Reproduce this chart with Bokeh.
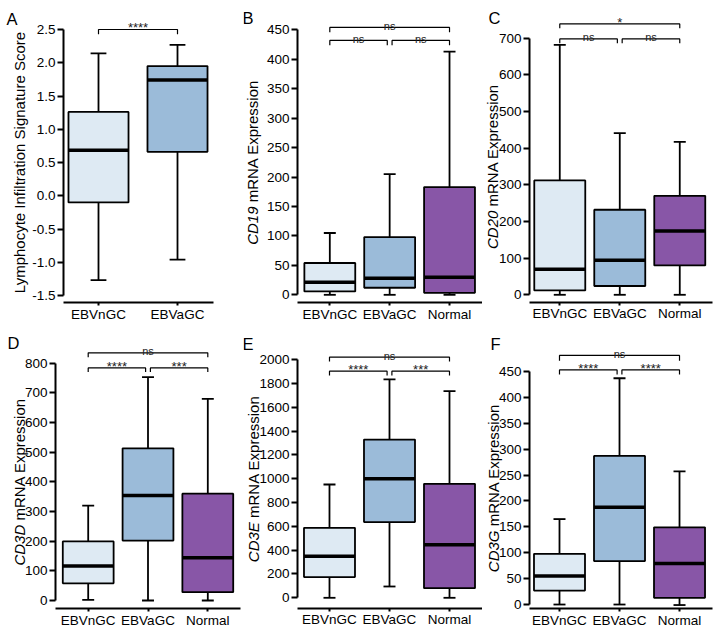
import math
from bokeh.plotting import figure
from bokeh.models import ColumnDataSource, Label, FixedTicker, PrintfTickFormatter, Range1d
from bokeh.layouts import row, column
from bokeh.embed import file_html
from bokeh.resources import INLINE
from bokeh.core.properties import value

FONT = "Liberation Sans"
box_colors = ["#deeaf3", "#9bbbd9", "#8856a7"]

# ---------------- data ----------------
# A: Lymphocyte infiltration signature score
a_groups = ["EBVnGC", "EBVaGC"]
a_lo = [-1.27, -0.96]
a_q1 = [-0.10, 0.66]
a_med = [0.685, 1.74]
a_q3 = [1.26, 1.95]
a_hi = [2.14, 2.27]
a_ticks = [-1.5, -1.0, -0.5, 0.0, 0.5, 1.0, 1.5, 2.0, 2.5]
a_sig = dict(x1=[1], x2=[2], y=[2.5], tip=[2.43], t=["****"])

groups = ["EBVnGC", "EBVaGC", "Normal"]

# B: CD19
b_lo = [0, 0, 0]
b_q1 = [5.7, 12, 3.4]
b_med = [21.5, 28, 30]
b_q3 = [54, 98, 183]
b_hi = [105, 205, 413]
b_ticks = [0, 50, 100, 150, 200, 250, 300, 350, 400, 450]
b_sig = dict(x1=[1, 1, 2.04], x2=[3, 1.96, 3], y=[454, 432, 432], tip=[446, 424, 424], t=["ns", "ns", "ns"])

# C: CD20
c_lo = [0, 0, 0]
c_q1 = [12, 24, 80]
c_med = [70, 94, 174]
c_q3 = [312, 232, 270]
c_hi = [682, 441, 417]
c_ticks = [0, 100, 200, 300, 400, 500, 600, 700]
c_sig = dict(x1=[1, 1, 2.04], x2=[3, 1.96, 3], y=[739, 698, 698], tip=[727, 686, 686], t=["*", "ns", "ns"])

# D: CD3D
d_lo = [2, 0, 0]
d_q1 = [58, 202, 28]
d_med = [116, 354, 144]
d_q3 = [199, 513, 360]
d_hi = [320, 753, 680]
d_ticks = [0, 100, 200, 300, 400, 500, 600, 700, 800]
d_sig = dict(x1=[1, 1, 2.04], x2=[3, 1.96, 3], y=[835, 784, 784], tip=[820, 770, 770], t=["ns", "****", "***"])

# E: CD3E
e_lo = [0, 95, 0]
e_q1 = [174, 636, 81]
e_med = [350, 1000, 445]
e_q3 = [588, 1330, 958]
e_hi = [952, 1835, 1737]
e_ticks = [0, 200, 400, 600, 800, 1000, 1200, 1400, 1600, 1800, 2000]
e_sig = dict(x1=[1, 1, 2.04], x2=[3, 1.96, 3], y=[2022, 1904, 1904], tip=[1986, 1868, 1868], t=["ns", "****", "***"])

# F: CD3G
f_lo = [0, 0, -1]
f_q1 = [27, 84, 13]
f_med = [55, 188, 79]
f_q3 = [98, 287, 149]
f_hi = [165, 437, 257]
f_ticks = [0, 50, 100, 150, 200, 250, 300, 350, 400, 450]
f_sig = dict(x1=[1, 1, 2.04], x2=[3, 1.96, 3], y=[481, 453, 453], tip=[471, 444, 444], t=["ns", "****", "****"])

# approximate Arial/Liberation Sans advance widths (per 1000 em)
CW = {' ': 278, 'C': 722, 'D': 722, 'E': 667, 'G': 778, 'A': 667, 'N': 722, 'R': 722,
      '0': 556, '1': 556, '2': 556, '3': 556, '9': 556, 'm': 833, 'x': 500, 'p': 556,
      'r': 333, 'e': 556, 's': 500, 'i': 222, 'o': 556, 'n': 556}


def tw(s, size):
    return sum(CW.get(ch, 556) for ch in s) * size / 1000.0


TITLE_FS = 15
TICK_FS = "13.5px"


def panel(letter, cats, lo, q1, med, q3, hi, ticks, fmt, sig, gene, rest,
          width, height, xr, yr, ax_x, x_end, ax_y, bw, title_dx, letter_dx, letter_dy):
    p = figure(width=width, height=height, x_range=Range1d(*xr), y_range=Range1d(*yr),
               output_backend="svg", toolbar_location=None, tools="", title=None,
               min_border_left=0, min_border_right=0, min_border_top=0, min_border_bottom=0)
    p.outline_line_color = None
    p.xgrid.visible = False
    p.ygrid.visible = False
    p.background_fill_color = "white"
    p.border_fill_color = "white"

    xs = [i + 1 for i in range(len(cats))]
    cw = 0.2
    src = ColumnDataSource(dict(
        x=xs, lo=lo, q1=q1, med=med, q3=q3, hi=hi, color=box_colors[:len(cats)],
        mx0=[x - bw / 2 for x in xs], mx1=[x + bw / 2 for x in xs],
        cx0=[x - cw / 2 for x in xs], cx1=[x + cw / 2 for x in xs],
    ))
    p.segment(x0="x", y0="q3", x1="x", y1="hi", source=src, line_color="black", line_width=1.8)
    p.segment(x0="x", y0="q1", x1="x", y1="lo", source=src, line_color="black", line_width=1.8)
    p.segment(x0="cx0", y0="hi", x1="cx1", y1="hi", source=src, line_color="black", line_width=1.8)
    p.segment(x0="cx0", y0="lo", x1="cx1", y1="lo", source=src, line_color="black", line_width=1.8)
    p.vbar(x="x", width=bw, bottom="q1", top="q3", source=src, fill_color="color",
           line_color="black", line_width=1.8)
    p.segment(x0="mx0", y0="med", x1="mx1", y1="med", source=src, line_color="black", line_width=3.5)

    # significance brackets
    bxs = [[a, a, b, b] for a, b in zip(sig["x1"], sig["x2"])]
    bys = [[tp, y, y, tp] for y, tp in zip(sig["y"], sig["tip"])]
    p.multi_line(xs=bxs, ys=bys, line_color="black", line_width=1.2)
    ssrc = ColumnDataSource(dict(
        xm=[(a + b) / 2 for a, b in zip(sig["x1"], sig["x2"])], y=sig["y"], t=sig["t"],
        fs=["13px" if "*" in s else "11px" for s in sig["t"]],
    ))
    p.text(x="xm", y="y", text="t", source=ssrc, text_font=value(FONT), text_font_size="fs",
           text_align="center", text_baseline="alphabetic", y_offset=-1.5, text_color="#222222")

    # y axis (Prism-style, drawn at a fixed location inside the canvas)
    ya = p.yaxis[0]
    ya.fixed_location = ax_x
    ya.ticker = FixedTicker(ticks=ticks)
    ya.bounds = (ticks[0], ticks[-1])
    if fmt:
        ya.formatter = PrintfTickFormatter(format=fmt)
    ya.axis_line_width = 2
    ya.axis_line_color = "black"
    ya.major_tick_line_width = 2
    ya.major_tick_line_color = "black"
    ya.major_tick_out = 6
    ya.major_tick_in = 0
    ya.minor_tick_line_color = None
    ya.major_label_text_font = FONT
    ya.major_label_text_font_size = TICK_FS
    ya.major_label_text_color = "black"
    ya.major_label_standoff = 2

    # x axis, offset below the y axis
    xa = p.xaxis[0]
    xa.fixed_location = ax_y
    xa.ticker = FixedTicker(ticks=xs)
    xa.bounds = (ax_x, x_end)
    xa.major_label_overrides = {x: c for x, c in zip(xs, cats)}
    xa.axis_line_width = 2
    xa.axis_line_color = "black"
    xa.major_tick_line_width = 2
    xa.major_tick_line_color = "black"
    xa.major_tick_out = 3
    xa.major_tick_in = 0
    xa.minor_tick_line_color = None
    xa.major_label_text_font = FONT
    xa.major_label_text_font_size = TICK_FS
    xa.major_label_text_color = "black"
    xa.major_label_standoff = 1

    # y-axis title (gene symbol in italics)
    yc = (ticks[0] + ticks[-1]) / 2
    fs = "%gpx" % TITLE_FS
    if gene:
        w_it = tw(gene, TITLE_FS)
        w_sp = tw(" ", TITLE_FS)
        w_reg = tw(rest, TITLE_FS)
        total = w_it + w_sp + w_reg
        p.add_layout(Label(x=ax_x, y=yc, x_offset=title_dx, y_offset=-total / 2, text=gene,
                           angle=math.pi / 2, text_align="left", text_baseline="middle",
                           text_font=FONT, text_font_style="italic", text_font_size=fs,
                           text_color="black"))
        p.add_layout(Label(x=ax_x, y=yc, x_offset=title_dx, y_offset=-total / 2 + w_it + w_sp,
                           text=rest, angle=math.pi / 2, text_align="left", text_baseline="middle",
                           text_font=FONT, text_font_size=fs, text_color="black"))
    else:
        p.add_layout(Label(x=ax_x, y=yc, x_offset=title_dx, y_offset=0, text=rest,
                           angle=math.pi / 2, text_align="center", text_baseline="middle",
                           text_font=FONT, text_font_size=fs, text_color="black"))

    # panel letter
    p.add_layout(Label(x=ax_x, y=yr[1], x_offset=letter_dx, y_offset=letter_dy, text=letter,
                       text_align="left", text_baseline="alphabetic", text_font=FONT,
                       text_font_size="16.5px", text_color="black"))
    return p


REST = "mRNA Expression"

pA = panel("A", a_groups, a_lo, a_q1, a_med, a_q3, a_hi, a_ticks, "%.1f", a_sig,
           "", "Lymphocyte Infiltration Signature Score",
           243, 330, (-0.2405, 2.8354), (-2.026, 2.936), 0.557, 2.456, -1.605, 0.76, -44, -57, -18)
pB = panel("B", groups, b_lo, b_q1, b_med, b_q3, b_hi, b_ticks, None, b_sig,
           "CD19", REST,
           239, 330, (-0.442, 3.551), (-60.6, 499.8), 0.46, 3.551, -13.1, 0.85, -45, -55, -17)
pC = panel("C", groups, c_lo, c_q1, c_med, c_q3, c_hi, c_ticks, None, c_sig,
           "CD20", REST,
           238, 330, (-0.288, 3.679), (-97.4, 802.8), 0.495, 3.545, -21.0, 0.85, -37, -41, -17)
pD = panel("D", groups, d_lo, d_q1, d_med, d_q3, d_hi, d_ticks, None, d_sig,
           "CD3D", REST,
           243, 301, (-0.4666, 3.597), (-104.5, 910.2), 0.453, 3.547, -27.0, 0.85, -36, -48, -12)
pE = panel("E", groups, e_lo, e_q1, e_med, e_q3, e_hi, e_ticks, None, e_sig,
           "CD3E", REST,
           239, 301, (-0.433, 3.550), (-283.2, 2246.2), 0.467, 3.55, -89.9, 0.85, -44, -55, -13)
pF = panel("F", groups, f_lo, f_q1, f_med, f_q3, f_hi, f_ticks, None, f_sig,
           "CD3G", REST,
           238, 301, (-0.283, 3.683), (-52.1, 529.2), 0.5, 3.55, -7.7, 0.85, -36, -39, -13)

layout = column(row(pA, pB, pC), row(pD, pE, pF))
open("out.html", "w").write(file_html(layout, INLINE))
